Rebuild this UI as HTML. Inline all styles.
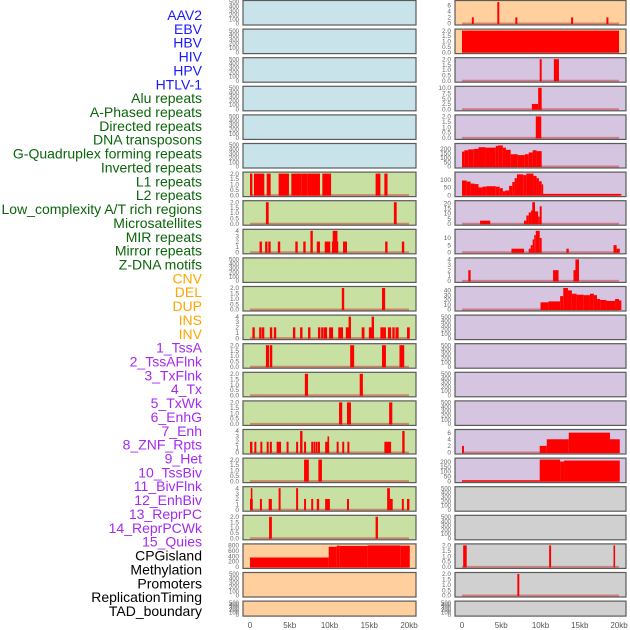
<!DOCTYPE html>
<html><head><meta charset="utf-8">
<style>
html,body{margin:0;padding:0;background:#fff;}
svg{display:block;font-family:"Liberation Sans",sans-serif;}
</style></head>
<body>
<svg id="chart" width="630" height="630" viewBox="0 0 630 630" xmlns="http://www.w3.org/2000/svg">
<g id="labels"></g>
<g id="panels"></g>
<g id="xaxes"></g>
</svg>
<script>
// ---- data ----
const categories = ["AAV2","EBV","HBV","HIV","HPV","HTLV-1","Alu repeats","A-Phased repeats","Directed repeats","DNA transposons","G-Quadruplex forming repeats","Inverted repeats","L1 repeats","L2 repeats","Low_complexity A/T rich regions","Microsatellites","MIR repeats","Mirror repeats","Z-DNA motifs","CNV","DEL","DUP","INS","INV","1_TssA","2_TssAFlnk","3_TxFlnk","4_Tx","5_TxWk","6_EnhG","7_Enh","8_ZNF_Rpts","9_Het","10_TssBiv","11_BivFlnk","12_EnhBiv","13_ReprPC","14_ReprPCWk","15_Quies","CPGisland","Methylation","Promoters","ReplicationTiming","TAD_boundary"];
const labelGroups = ["virus","virus","virus","virus","virus","virus","rep","rep","rep","rep","rep","rep","rep","rep","rep","rep","rep","rep","rep","sv","sv","sv","sv","sv","chr","chr","chr","chr","chr","chr","chr","chr","chr","chr","chr","chr","chr","chr","chr","oth","oth","oth","oth","oth"];
const xTickValues = [0,5,10,15,20];
const xTickLabels = ["0","5kb","10kb","15kb","20kb"];
const ticksEmpty = [0,100,200,300,400,500];
const ticks2 = [0,0.5,1,1.5,2];
const ticks4 = [0,1,2,3,4];

// bars: [startKb, endKb, value]
const L_alu = [[0,0.3,2],[0.5,1.8,2],[2.1,2.6,2],[3.6,4.9,2],[5.2,6.5,2],[6.5,7.2,2],[7.2,8.8,2],[9.1,10.2,2],[15.8,16.4,2],[16.9,17.3,2]];
const L_aphased = [[2.0,2.35,2],[18.1,18.45,2]];
const L_directed = [[1.2,1.5,2],[1.9,2.2,2],[2.3,2.6,2],[3.5,3.8,2],[5.7,6.0,2],[6.7,7.0,2],[7.6,7.9,4],[8.4,8.8,2],[9.4,10.1,2],[10.3,11.1,2],[10.4,11.0,4],[11.7,12.2,2],[17.0,17.3,2],[19.1,19.4,2]];
const L_gquad = [[11.55,11.85,2],[16.6,17.0,2]];
const L_inverted = [[0.3,0.6,2],[1.15,1.45,2],[1.5,1.8,2],[2.5,2.8,2],[3.0,3.3,2],[5.4,5.7,2],[6.3,6.6,2],[7.3,7.6,2],[8.55,8.85,2],[8.95,9.25,2],[9.3,9.7,2],[9.95,10.45,2],[11.1,11.7,2],[12.05,12.45,2],[12.4,12.7,4],[14.05,14.4,2],[14.95,15.35,2],[15.3,15.6,4],[16.4,16.8,2],[16.8,17.1,2],[17.35,17.75,2],[17.9,18.2,2],[18.3,18.7,2],[19.75,20.1,2]];
const L_l1 = [[2.0,2.4,2],[2.5,2.8,2],[12.6,13.1,2],[16.6,17.1,2],[18.8,19.4,2]];
const L_l2 = [[6.9,7.3,2],[13.8,14.2,2]];
const L_lowc = [[11.2,11.6,2],[12.2,12.7,2],[17.5,17.9,2]];
const L_microsat = [[0,0.3,2],[0.55,0.8,2],[1.3,1.55,2],[2.1,2.35,2],[2.5,2.75,2],[3.35,3.9,2],[4.6,4.85,2],[5.8,6.05,2],[6.3,6.6,4],[6.8,7.05,2],[7.7,7.95,2],[8.0,8.2,2],[8.25,8.45,2],[8.5,8.8,2],[9.45,9.95,2],[9.75,9.95,3],[10.9,11.15,2],[11.6,11.85,2],[12.25,12.5,2],[16.9,17.75,2],[19.15,19.45,4]];
const L_mir = [[6.8,7.4,2],[8.6,9.05,2]];
const L_mirror = [[0,0.35,2],[0.1,0.3,4],[1.25,1.5,2],[2.35,2.75,2],[3.6,3.85,4],[5.8,6.05,4],[6.8,7.05,2],[7.7,7.95,2],[8.4,8.7,2],[9.45,10.05,2],[12.2,12.45,2],[17.25,17.6,4],[17.6,17.95,2],[19.1,19.35,2],[19.75,20.05,2]];
const L_zdna = [[2.4,2.75,2],[15.8,16.1,2]];
const L_cnv = [[0,9.9,350],[9.9,10.9,750],[10.9,11.3,790],[11.3,14.8,780],[14.8,18.9,830],[18.9,20.1,790]];
const R_ins = [[1.25,1.5,2],[4.5,4.75,7],[6.8,7.05,2],[13.9,14.15,2],[18.4,18.65,2]];
const R_inv = [[0,20,2]];
const R_tssa = [[9.9,10.15,2],[11.7,12.35,2]];
const R_tssaflnk = [[8.9,9.7,2.5],[9.7,10.15,10]];
const R_txflnk = [[9.4,10.1,2]];
const R_tx = [[0,0.3,170],[0.3,0.8,185],[0.8,1.5,195],[1.5,2.1,200],[2.1,3.0,220],[3.0,4.3,215],[4.3,4.6,235],[4.6,5.2,240],[5.2,5.6,215],[5.6,6.2,190],[6.2,7.1,140],[7.1,8.0,130],[8.0,8.5,140],[8.5,9.0,160],[9.0,9.5,185],[9.5,10.15,175]];
const R_txwk = [[0,0.6,95],[0.6,1.1,88],[1.1,1.6,75],[1.6,2.1,72],[2.1,2.6,50],[2.6,3.1,55],[3.1,4.3,58],[4.3,4.8,55],[4.8,5.2,45],[5.2,5.5,25],[5.5,6.0,30],[6.0,6.4,60],[6.4,6.7,85],[6.7,7.0,110],[7.0,7.8,135],[7.8,8.2,130],[8.2,9.1,140],[9.1,9.5,125],[9.5,9.8,110],[9.8,10.15,90],[10.15,10.2,70],[10.15,20.3,8]];
const R_enhg = [[2.3,3.6,3],[7.9,8.2,3],[8.2,8.5,8],[8.5,8.8,11],[8.8,9.0,13],[8.95,9.3,21],[9.3,9.7,12],[9.7,9.9,7],[9.9,10.15,17]];
const R_enh = [[6.3,7.9,2.5],[8.5,8.75,2.5],[8.75,9.0,5],[9.0,9.2,9],[9.2,9.4,12],[9.4,9.9,15],[9.9,10.15,10],[13.3,13.6,2.5],[19.3,19.7,5],[19.7,20.1,2.5]];
const R_znf = [[0.8,1.1,2],[11.6,12.3,2],[14.2,14.5,2],[14.45,14.9,4]];
const R_het = [[10.0,11.0,15],[11.0,12.5,17],[12.5,12.9,28],[12.9,13.5,45],[13.5,14.0,40],[14.0,14.6,33],[14.6,15.5,31],[15.5,16.3,30],[16.3,16.8,33],[16.8,17.2,30],[17.2,17.6,22],[17.6,18.4,20],[18.4,19.5,18],[19.5,20.0,22],[20.0,20.3,19]];
const R_enhbiv = [[0,0.25,2],[9.9,10.8,2],[10.8,13.6,4],[13.6,18.85,6],[18.85,20.1,4]];
const R_reprpc = [[0,9.9,8],[9.9,12.5,225],[12.5,13.0,205],[13.0,20.1,215]];
const R_cpg = [[0.15,0.6,2],[11.1,11.35,2],[19.3,19.5,2]];
const R_meth = [[7.05,7.3,2]];

// panel layout definitions (column, row, bg, ticks, top tick, bars)
const panels = [
 {n:"aav2",c:0,r:0,bg:"#c8e4ea",t:ticksEmpty,b:null},
 {n:"ebv",c:0,r:1,bg:"#c8e4ea",t:ticksEmpty,b:null},
 {n:"hbv",c:0,r:2,bg:"#c8e4ea",t:ticksEmpty,b:null},
 {n:"hiv",c:0,r:3,bg:"#c8e4ea",t:ticksEmpty,b:null},
 {n:"hpv",c:0,r:4,bg:"#c8e4ea",t:ticksEmpty,b:null},
 {n:"htlv1",c:0,r:5,bg:"#c8e4ea",t:ticksEmpty,b:null},
 {n:"alu",c:0,r:6,bg:"#c8e0a2",t:ticks2,b:L_alu},
 {n:"a-phased",c:0,r:7,bg:"#c8e0a2",t:ticks2,b:L_aphased},
 {n:"directed",c:0,r:8,bg:"#c8e0a2",t:ticks4,b:L_directed},
 {n:"dna-transposons",c:0,r:9,bg:"#c8e0a2",t:ticksEmpty,b:null},
 {n:"g-quadruplex",c:0,r:10,bg:"#c8e0a2",t:ticks2,b:L_gquad},
 {n:"inverted",c:0,r:11,bg:"#c8e0a2",t:ticks4,b:L_inverted},
 {n:"l1",c:0,r:12,bg:"#c8e0a2",t:ticks2,b:L_l1},
 {n:"l2",c:0,r:13,bg:"#c8e0a2",t:ticks2,b:L_l2},
 {n:"low-complexity",c:0,r:14,bg:"#c8e0a2",t:ticks2,b:L_lowc},
 {n:"microsatellites",c:0,r:15,bg:"#c8e0a2",t:ticks4,b:L_microsat},
 {n:"mir",c:0,r:16,bg:"#c8e0a2",t:ticks2,b:L_mir},
 {n:"mirror",c:0,r:17,bg:"#c8e0a2",t:ticks4,b:L_mirror},
 {n:"z-dna",c:0,r:18,bg:"#c8e0a2",t:ticks2,b:L_zdna},
 {n:"cnv",c:0,r:19,bg:"#ffcf9e",t:[0,200,400,600,800],b:L_cnv},
 {n:"del",c:0,r:20,bg:"#ffcf9e",t:ticksEmpty,b:null},
 {n:"dup",c:0,r:21,bg:"#ffcf9e",t:ticksEmpty,b:null},
 {n:"ins",c:1,r:0,bg:"#ffcf9e",t:[0,2,4,6],top:7,b:R_ins},
 {n:"inv",c:1,r:1,bg:"#ffcf9e",t:ticks2,b:R_inv},
 {n:"tssa",c:1,r:2,bg:"#d5c5e1",t:ticks2,b:R_tssa},
 {n:"tssaflnk",c:1,r:3,bg:"#d5c5e1",t:[0,2.5,5,7.5,10],lab:["0.0","2.5","5.0","7.5","10.0"],b:R_tssaflnk},
 {n:"txflnk",c:1,r:4,bg:"#d5c5e1",t:ticks2,b:R_txflnk},
 {n:"tx",c:1,r:5,bg:"#d5c5e1",t:[0,50,100,150,200],top:245,b:R_tx},
 {n:"txwk",c:1,r:6,bg:"#d5c5e1",t:[0,50,100],top:140,b:R_txwk},
 {n:"enhg",c:1,r:7,bg:"#d5c5e1",t:[0,5,10,15,20],top:21,b:R_enhg},
 {n:"enh",c:1,r:8,bg:"#d5c5e1",t:[0,5,10],top:15,b:R_enh},
 {n:"znf-rpts",c:1,r:9,bg:"#d5c5e1",t:ticks4,b:R_znf},
 {n:"het",c:1,r:10,bg:"#d5c5e1",t:[0,10,20,30,40],top:45,b:R_het},
 {n:"tssbiv",c:1,r:11,bg:"#d5c5e1",t:ticksEmpty,b:null},
 {n:"bivflnk",c:1,r:12,bg:"#d5c5e1",t:ticksEmpty,b:null},
 {n:"enhbiv-empty",c:1,r:13,bg:"#d5c5e1",t:ticksEmpty,b:null},
 {n:"reprpc-empty",c:1,r:14,bg:"#d5c5e1",t:ticksEmpty,b:null},
 {n:"enhbiv",c:1,r:15,bg:"#d5c5e1",t:[0,2,4,6],top:6.5,b:R_enhbiv},
 {n:"reprpc",c:1,r:16,bg:"#d5c5e1",t:[0,50,100,150,200],top:225,b:R_reprpc},
 {n:"promoters",c:1,r:17,bg:"#d0d0d0",t:ticksEmpty,b:null},
 {n:"replication-timing",c:1,r:18,bg:"#d0d0d0",t:ticksEmpty,b:null},
 {n:"cpgisland",c:1,r:19,bg:"#d0d0d0",t:ticks2,b:R_cpg},
 {n:"methylation",c:1,r:20,bg:"#d0d0d0",t:ticks2,b:R_meth},
 {n:"tad-boundary",c:1,r:21,bg:"#d0d0d0",t:ticksEmpty,b:null}
];

// ---- rendering ----
const NS="http://www.w3.org/2000/svg";
function mk(tag,attrs,parent){const e=document.createElementNS(NS,tag);for(const k in attrs)e.setAttribute(k,attrs[k]);parent.appendChild(e);return e;}
const colLeft=[243,455], colW=[173,171], zeroX=[250,462], pxPerKb=[7.95,7.85];
const rowPitch=28.6, panelH=24.5;
function xScale(c,kb){return zeroX[c]+kb*pxPerKb[c];}
function fmt(v,ticks){const dec=ticks.some(t=>t%1!==0);return dec?v.toFixed(1):String(v);}

const groupColor={virus:"#1a1aff",rep:"#0b650b",sv:"#ffa500",chr:"#a42af0",oth:"#000000"};
const lg=document.getElementById("labels");
categories.forEach((name,i)=>{
  const t=mk("text",{x:202,y:15+i*13.86+5,"text-anchor":"end","font-size":"14",fill:groupColor[labelGroups[i]]},lg);
  t.textContent=name;
  
  
});

const pg=document.getElementById("panels");
panels.forEach(p=>{
  const top=0.5+p.r*rowPitch;
  const h=(p.r===21)?15:panelH;
  const L=colLeft[p.c], W=colW[p.c];
  const g=mk("g",{},pg);
  
  
  const bg=mk("rect",{x:L,y:top,width:W,height:h,fill:p.bg},g);
  
  
  const yTop=p.top||p.t[p.t.length-1];
  const bottom=top+h-1.5, span=h-3;
  const yS=v=>bottom-Math.min(v,yTop)/yTop*span;
  if(p.b){
    const base=mk("line",{x1:xScale(p.c,0),x2:xScale(p.c,20),y1:bottom,y2:bottom,stroke:"rgba(200,30,30,0.45)","stroke-width":2},g);
    
    
    p.b.forEach(b=>{
      const x0=xScale(p.c,b[0]), x1=xScale(p.c,b[1]);
      const r=mk("rect",{x:x0,y:yS(b[2]),width:Math.max(1.5,x1-x0),height:bottom-yS(b[2])+0.5,fill:"#ff0000"},g);
      
      
    });
  }
  const fr=mk("rect",{x:L,y:top,width:W,height:h,fill:"none",stroke:"#5a5a5a","stroke-width":1.2},g);
  
  
  p.t.forEach((tv,i)=>{
    const y=yS(tv);
    const tl=mk("text",{x:L-4,y:y+2.2,"text-anchor":"end","font-size":(p.t.length>5?"6":"6.5"),fill:"#666"},g);
    tl.textContent=p.lab?p.lab[i]:fmt(tv,p.t);
    
    
  });
});

const xg=document.getElementById("xaxes");
[0,1].forEach(c=>{
  xTickValues.forEach((v,i)=>{
    const t=mk("text",{x:xScale(c,v),y:628,"text-anchor":"middle","font-size":"8",fill:"#555"},xg);
    t.textContent=xTickLabels[i];
    
    
  });
});
</script>
</body></html>
